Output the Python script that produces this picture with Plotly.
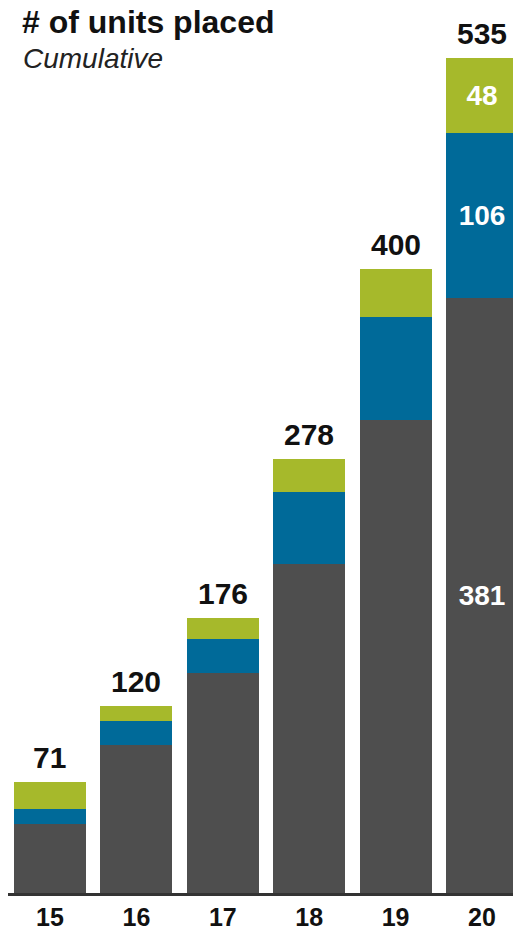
import plotly.graph_objects as go

years = ["15", "16", "17", "18", "19", "20"]
gray_vals = [44, 95, 141, 211, 303, 381]
blue_vals = [10, 15, 22, 46, 66, 106]
green_vals = [17, 10, 13, 21, 31, 48]
totals = [71, 120, 176, 278, 400, 535]

GRAY = "#4e4e4e"
BLUE = "#006a99"
GREEN = "#a6b92b"
FONT = "Liberation Sans"

W, H = 513, 932
ML, MB = 8, 39
PW, PH = W - ML, H - MB


def inside_labels(vals):
    return ["<b>%d</b>" % v if i == len(vals) - 1 else "" for i, v in enumerate(vals)]


fig = go.Figure()
for vals, col in [(gray_vals, GRAY), (blue_vals, BLUE), (green_vals, GREEN)]:
    fig.add_trace(go.Bar(
        x=years, y=vals, marker=dict(color=col, line=dict(width=0)),
        text=inside_labels(vals), textposition="inside", insidetextanchor="middle",
        textfont=dict(family=FONT, size=28, color="white"),
        textangle=0, hoverinfo="skip", showlegend=False,
    ))

# total labels above each stack (category index positions)
annotations = [
    dict(x=i, y=t, text="<b>%d</b>" % t, xref="x", yref="y",
         xanchor="center", yanchor="bottom", yshift=6, showarrow=False,
         font=dict(family=FONT, size=30, color="#111111"))
    for i, t in enumerate(totals)
]
annotations += [
    dict(text="<b># of units placed</b>", x=(20 - ML) / PW, y=1 - 22 / PH,
         xref="paper", yref="paper", xanchor="left", yanchor="middle",
         showarrow=False, font=dict(family=FONT, size=32, color="#111111")),
    dict(text="<i>Cumulative</i>", x=(21 - ML) / PW, y=1 - 58 / PH,
         xref="paper", yref="paper", xanchor="left", yanchor="middle",
         showarrow=False, font=dict(family=FONT, size=28, color="#222222")),
]

fig.update_layout(
    barmode="stack", bargap=0.167,
    width=W, height=H,
    margin=dict(l=ML, r=0, t=0, b=MB),
    paper_bgcolor="white", plot_bgcolor="white",
    font=dict(family=FONT, color="#111111"),
    xaxis=dict(
        type="category", range=[-0.486, 5.359],
        tickvals=years, ticktext=["<b>%s</b>" % y for y in years],
        tickfont=dict(family=FONT, size=25, color="#111111"),
        showline=True, linecolor="#333333", linewidth=3,
        ticks="", showgrid=False, zeroline=False, fixedrange=True,
    ),
    yaxis=dict(
        range=[0, 572.2], visible=False, showgrid=False, zeroline=False, fixedrange=True,
    ),
    annotations=annotations,
)

fig.write_html("out.html", config={"displayModeBar": False},
               post_script="document.body.style.margin='0px';")
